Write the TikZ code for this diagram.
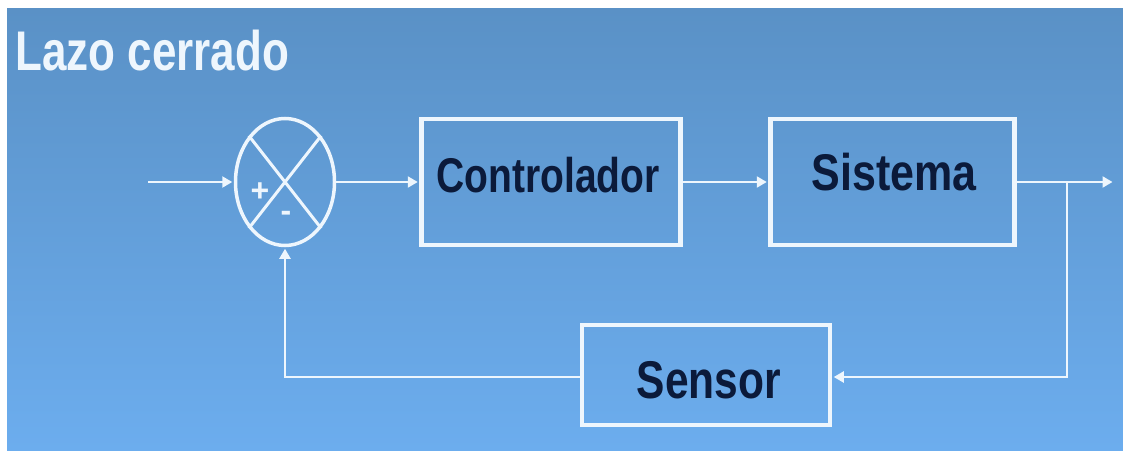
\documentclass[tikz,border=0pt]{standalone}
\usepackage{fontspec}
\setmainfont{Liberation Sans}
\usetikzlibrary{arrows.meta,shapes.geometric}
\definecolor{bgtop}{HTML}{5A91C6}
\definecolor{bgbot}{HTML}{6CADEE}
\definecolor{ln}{HTML}{EEF6FD}
\definecolor{txt}{HTML}{0B1A3A}
\begin{document}
\begin{tikzpicture}[x=1pt,y=-1pt,
  blk/.style={draw=ln, line width=4.5pt, inner sep=0pt, fill=none},
  conn/.style={draw=ln, line width=2.2pt, -{Triangle[length=10pt,width=11pt]}, shorten >=1.5pt},
  plain/.style={draw=ln, line width=2.2pt},
  lbl/.style={text=txt, inner sep=0pt, anchor=base, font=\bfseries},
  sign/.style={text=ln, inner sep=0pt, font=\bfseries\fontsize{32}{32}\selectfont}]
\useasboundingbox (0,0) rectangle (1123,450);
\fill[white] (0,0) rectangle (1123,450);
\shade[top color=bgtop, bottom color=bgbot] (7,8) rectangle (1123,450);

% title
\node[inner sep=0pt, anchor=base west, text=ln, font=\bfseries\fontsize{44}{44}\selectfont] (title) at (15,70) {\scalebox{1}[1.27]{Lazo cerrado}};

% summing junction
\node[draw=ln, line width=3.5pt, ellipse, minimum width=99pt, minimum height=127pt, inner sep=0pt] (sum) at (285,182) {};
\draw[ln, line width=3pt] (sum.128) -- (sum.-52);
\draw[ln, line width=3pt] (sum.52) -- (sum.-128);
\node[sign] (plus) at (260,192) {+};
\node[sign] (minus) at (286,216) {-};

% blocks
\node[blk, minimum width=259pt, minimum height=126pt] (ctrl) at (551,182) {};
\node[blk, minimum width=244pt, minimum height=126pt] (sys) at (892.5,182) {};
\node[blk, minimum width=248pt, minimum height=100pt] (sens) at (706,375) {};

\node[lbl, font=\bfseries\fontsize{39}{39}\selectfont] (ctrlt) at (548,192) {\scalebox{1}[1.25]{Controlador}};
\node[lbl, font=\bfseries\fontsize{43}{43}\selectfont] (syst) at (894,190) {\scalebox{1}[1.2]{Sistema}};
\node[lbl, font=\bfseries\fontsize{42.5}{42.5}\selectfont] (senst) at (709,398) {\scalebox{1}[1.25]{Sensor}};

% connectors
\coordinate (in) at (148,182);
\coordinate (out) at (1114,182);
\coordinate (br) at (1067,182);
\draw[conn] (in) -- (sum.west);
\draw[conn] (sum.east) -- (ctrl.west);
\draw[conn] (ctrl.east) -- (sys.west);
\draw[conn] (sys.east) -- (out);
\draw[conn] (br) |- ([yshift=-2pt]sens.east);
\draw[conn] ([yshift=-2pt]sens.west) -| (sum.south);
\end{tikzpicture}
\end{document}
